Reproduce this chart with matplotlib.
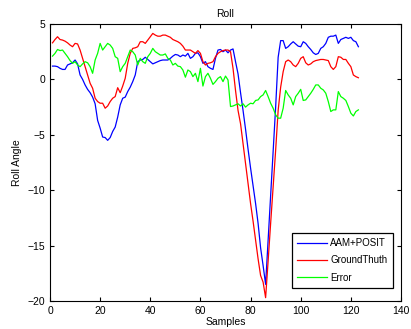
import numpy as np
import matplotlib
matplotlib.use("Agg")
import matplotlib.pyplot as plt

plt.rcParams.update({
    "font.family": ["Liberation Sans", "DejaVu Sans"],
    "font.size": 7.5,
    "xtick.direction": "in",
    "ytick.direction": "in",
    "xtick.top": True,
    "ytick.right": True,
    "xtick.major.size": 3,
    "ytick.major.size": 3,
    "axes.linewidth": 0.8,
})

# samples 1..123
samples = np.arange(1, 124)

aam_posit = [
    1.2, 1.2, 1.15, 1.0, 0.9, 0.9, 1.3, 1.4, 1.5, 1.75,
    1.4, 0.4, 0.0, -0.5, -0.9, -1.2, -1.6, -2.2, -3.7, -4.4,
    -5.2, -5.25, -5.5, -5.25, -4.7, -4.3, -3.4, -2.3, -1.7, -1.6,
    -1.1, -0.7, -0.2, 0.4, 1.6, 1.75, 1.8, 2.0, 1.8, 1.6,
    1.4, 1.5, 1.6, 1.7, 1.75, 1.75, 1.75, 1.9, 2.1, 2.25,
    2.2, 2.05, 2.2, 2.1, 2.35, 1.9, 2.05, 2.35, 2.4, 2.05,
    1.45, 1.6, 1.15, 1.0, 0.9, 1.9, 2.65, 2.7, 2.5, 2.65,
    2.4, 2.65, 2.75, 1.6, 0.5, -1.2, -2.8, -4.5, -6.3, -8.0,
    -9.6, -11.2, -13.0, -15.2, -16.8, -18.5, -14.5, -10.5, -6.5, -2.5,
    2.0, 3.5, 3.5, 2.8, 2.95, 3.2, 3.4, 3.2, 3.0, 2.95,
    3.4, 3.25, 2.95, 2.7, 2.4, 2.25, 2.35, 2.8, 2.95, 3.25,
    3.8, 3.9, 3.9, 4.0, 3.25, 3.6, 3.7, 3.8, 3.7, 3.8,
    3.5, 3.4, 2.95,
]

ground_truth = [
    3.3, 3.6, 3.85, 3.6, 3.55, 3.45, 3.3, 3.1, 2.95, 3.25,
    3.2, 2.65, 1.9, 1.15, 0.4, -0.35, -0.8, -1.7, -2.0, -2.15,
    -2.15, -2.6, -2.4, -2.0, -1.7, -1.55, -0.75, -1.2, -0.6, 0.1,
    1.45, 2.35, 2.8, 2.85, 2.95, 3.4, 3.4, 3.25, 3.55, 3.85,
    4.15, 4.0, 3.9, 3.9, 4.0, 4.0, 3.9, 3.8, 3.6, 3.5,
    3.4, 3.25, 3.0, 2.65, 2.65, 2.65, 2.5, 2.35, 2.6, 2.35,
    1.6, 1.3, 1.45, 1.5, 1.6, 2.05, 2.35, 2.5, 2.6, 2.65,
    2.65, 2.5, 1.0, -1.0, -2.8, -4.0, -5.8, -7.6, -9.4, -11.2,
    -12.8, -14.5, -16.2, -17.7, -18.3, -19.7, -16.4, -13.0, -9.7, -6.4,
    -2.8, -0.7, 0.7, 1.6, 1.75, 1.6, 1.3, 1.15, 1.45, 1.9,
    2.05, 1.5, 1.3, 1.4, 1.6, 1.7, 1.75, 1.8, 1.8, 1.75,
    1.7, 1.15, 0.9, 1.15, 2.05, 2.0, 1.8, 1.8, 1.45, 1.15,
    0.4, 0.25, 0.15,
]

error = [
    2.1, 2.35, 2.7, 2.6, 2.65, 2.35, 2.05, 1.7, 1.45, 1.6,
    1.3, 1.15, 1.4, 1.6, 1.5, 1.15, 0.55, 1.75, 2.35, 3.25,
    2.65, 2.95, 3.25, 3.1, 2.8, 2.05, 1.9, 0.7, 1.15, 1.45,
    2.05, 2.65, 2.5, 2.2, 1.3, 1.9, 1.6, 1.45, 2.05, 2.35,
    2.8, 2.5, 2.35, 2.2, 2.2, 2.3, 1.9, 1.75, 1.3, 1.45,
    1.2, 1.15, 0.85, 0.2, 0.85, 0.7, 0.25, 0.55, -0.2, 1.0,
    -0.6, 0.25, 0.55, 0.1, -0.45, -0.2, 0.1, 0.25, -0.2, 0.3,
    -0.05, -2.45, -2.4, -2.3, -2.2, -2.4, -2.2, -2.5, -2.3, -2.15,
    -2.2, -1.9, -1.85, -1.55, -1.4, -1.0, -1.55, -2.15, -2.6, -3.2,
    -3.5, -3.5, -2.6, -1.0, -1.4, -1.7, -2.3, -1.55, -1.25, -0.9,
    -1.9, -1.85, -1.55, -1.25, -0.9, -0.5, -0.5, -0.8, -0.95, -1.25,
    -2.0, -2.9, -2.75, -2.75, -1.1, -1.55, -1.7, -1.9, -2.45, -3.05,
    -3.3, -2.9, -2.75,
]

fig = plt.figure(figsize=(4.11, 3.29), dpi=100)
ax = fig.add_axes([50 / 411, 1 - 301 / 329, 351 / 411, 277 / 329])

ax.plot(samples, aam_posit, color="#0000ff", lw=0.9, label="AAM+POSIT")
ax.plot(samples, ground_truth, color="#ff0000", lw=0.9, label="GroundThuth")
ax.plot(samples, error, color="#00ff00", lw=0.9, label="Error")

ax.set_xlim(0, 140)
ax.set_ylim(-20, 5)
ax.set_xticks(np.arange(0, 141, 20))
ax.set_yticks(np.arange(-20, 6, 5))
ax.set_title("Roll", fontsize=7.5, pad=5)
ax.set_xlabel("Samples", labelpad=1)
ax.set_ylabel("Roll Angle", labelpad=4)

leg = ax.legend(loc="lower right", bbox_to_anchor=(0.977, 0.047),
                fontsize=7, fancybox=False, edgecolor="black",
                framealpha=1, handlelength=3.1, borderaxespad=0,
                labelspacing=0.75, borderpad=0.55, handletextpad=0.35)
leg.get_frame().set_linewidth(0.9)

fig.savefig("out.png", dpi=100)
